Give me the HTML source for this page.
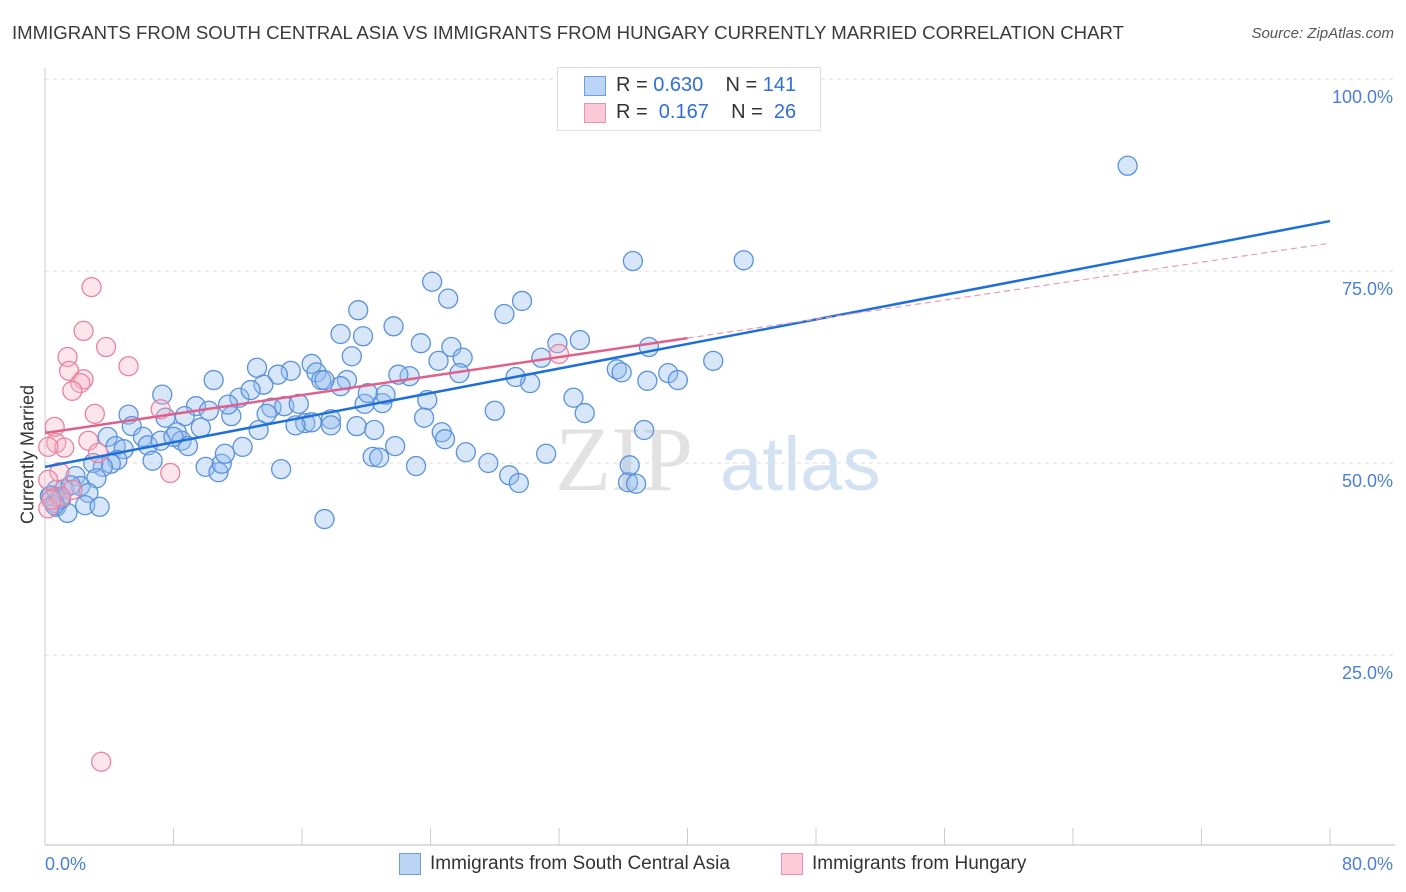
<!DOCTYPE html>
<html><head><meta charset="utf-8"><style>
body{margin:0;background:#fff;font-family:"Liberation Sans",sans-serif;}
#wrap{position:relative;width:1406px;height:892px;overflow:hidden;}
.t{position:absolute;white-space:nowrap;}
</style></head><body>
<div id="wrap">
<div class="t" style="left:12px;top:22px;font-size:18.6px;color:#3a3a3a;">IMMIGRANTS FROM SOUTH CENTRAL ASIA VS IMMIGRANTS FROM HUNGARY CURRENTLY MARRIED CORRELATION CHART</div>
<div class="t" style="right:12px;top:25px;font-size:15px;color:#555;font-style:italic;">Source: ZipAtlas.com</div>
<svg id="svg" width="1406" height="892" style="position:absolute;left:0;top:0"></svg>
</div>
<script>
const xTicks=[0,80];
const yTicks=[25,50,75,100];
const blueX=[67.4,36.6,43.5,24.1,25.1,29.7,28.6,19.5,18.4,19.8,21.7,23.4,25.3,24.5,26.0,19.1,31.9,33.3,37.6,41.6,35.6,35.9,38.8,39.4,37.5,30.2,29.3,30.9,25.8,22.7,22.0,18.8,16.6,16.9,17.2,15.3,14.5,13.2,13.6,12.1,12.8,10.5,7.3,9.4,8.7,10.2,11.6,11.4,14.1,13.8,14.9,15.8,16.2,16.6,15.6,17.8,17.8,19.4,19.9,21.0,21.2,20.1,23.8,23.6,28.0,24.7,24.9,20.5,21.8,20.4,20.8,23.1,26.2,27.6,28.9,29.5,31.2,32.9,33.6,36.3,36.8,37.3,36.4,5.2,5.4,6.1,6.4,6.7,7.5,8.2,8.5,8.9,7.2,8.0,9.7,10.0,10.8,11.0,11.2,12.3,13.3,14.7,17.4,3.9,4.4,4.9,4.5,4.1,3.6,3.0,3.2,1.9,2.2,2.7,1.2,0.9,0.6,0.4,0.7,1.4,2.5,3.4,0.7,1.0,1.6,0.3,0.6,18.4,17.4];
const blueY=[88.7,76.3,76.4,73.6,71.4,71.1,69.4,69.9,66.8,66.5,67.8,65.6,65.1,63.3,63.7,63.9,65.6,66.0,65.1,63.3,62.2,61.8,61.7,60.8,60.7,60.4,61.2,63.7,61.7,61.3,61.5,60.8,62.9,61.8,60.8,62.0,61.5,62.4,60.2,58.5,59.5,60.8,58.9,57.4,56.1,56.8,56.1,57.6,57.2,56.4,57.4,57.7,55.2,55.3,54.9,55.7,54.9,54.8,57.7,57.8,58.9,59.1,58.2,55.9,56.8,54.0,53.1,54.3,52.2,50.8,50.7,49.6,51.4,50.0,48.4,47.4,51.2,58.5,56.5,47.5,47.3,54.3,49.7,56.3,54.8,53.4,52.3,50.3,55.9,54.0,52.9,52.2,52.9,53.4,54.6,49.5,48.8,49.9,51.2,52.1,54.3,49.2,42.7,53.4,52.2,51.8,50.4,49.9,49.5,50.0,48.0,48.3,47.0,46.1,46.6,45.4,44.8,45.8,44.3,43.5,44.5,44.3,46.5,45.3,47.1,45.7,44.5,60.0,60.8];
const pinkX=[2.9,2.4,3.8,1.4,5.2,1.5,2.4,2.2,1.7,3.1,7.2,0.6,0.7,1.2,0.2,2.7,3.3,7.8,0.9,0.2,1.7,1.0,0.2,32.0,3.5,0.4];
const pinkY=[72.9,67.2,65.1,63.8,62.6,62.0,60.9,60.4,59.4,56.4,57.0,54.7,52.6,52.0,52.1,52.9,51.3,48.7,48.8,47.8,46.5,45.6,44.1,64.2,11.1,45.2];
const blueTrend=[49.5,0.40];
const pinkTrend=[53.9,0.309];
const pinkSolidEnd=40;

const X0=45,X1=1330,Y0=847,Y1=79;
const sx=v=>X0+(v-0)/80*(X1-X0);
const sy=v=>Y0-(v/100)*(Y0-Y1);
const svg=document.getElementById('svg');
const NS='http://www.w3.org/2000/svg';
function mk(tag,attrs){const e=document.createElementNS(NS,tag);for(const k in attrs)e.setAttribute(k,attrs[k]);svg.appendChild(e);return e;}

yTicks.forEach(v=>{
 const g=mk('line',{x1:X0,x2:1395,y1:sy(v),y2:sy(v),stroke:'#dcdcdc','stroke-dasharray':'4,4'});
 
 
 const t=mk('text',{x:1393,y:sy(v)+24,'text-anchor':'end','font-size':18,fill:'#4a7fd4','font-family':'Liberation Sans,sans-serif'});
 t.textContent=v.toFixed(1)+'%';
 
 
});
let ax=mk('line',{x1:X0,x2:X0,y1:68,y2:845,stroke:'#ccc'});


ax=mk('line',{x1:X0,x2:1395,y1:845,y2:845,stroke:'#bbb'});


for(let i=0;i<=10;i++){const tk=mk('line',{x1:sx(i*8),x2:sx(i*8),y1:828,y2:845,stroke:'#ccc'});
 
 }
xTicks.forEach((v,i)=>{const t=mk('text',{x:i==0?45:1393,y:870,'text-anchor':i==0?'start':'end','font-size':18,fill:'#4a7fd4','font-family':'Liberation Sans,sans-serif'});
 t.textContent=v.toFixed(1)+'%';
 
 });
let wm=mk('text',{x:555,y:490,'font-size':92,fill:'#e2e2e2','font-family':'Liberation Serif,serif'});wm.textContent='ZIP';


wm=mk('text',{x:720,y:490,'font-size':76,fill:'#d3e2f3','font-family':'Liberation Sans,sans-serif'});wm.textContent='atlas';


blueX.forEach((x,i)=>{const c=mk('circle',{cx:sx(x),cy:sy(blueY[i]),r:9.5,fill:'rgba(150,190,240,0.38)',stroke:'#5a92dc','stroke-width':1.3});
 
 });
pinkX.forEach((x,i)=>{const c=mk('circle',{cx:sx(x),cy:sy(pinkY[i]),r:9.5,fill:'rgba(248,180,200,0.35)',stroke:'#e8829f','stroke-width':1.3});
 
 });
let l=mk('line',{x1:sx(0),y1:sy(blueTrend[0]),x2:sx(80),y2:sy(blueTrend[0]+80*blueTrend[1]),stroke:'#1f6fd8','stroke-width':2.5});


l=mk('line',{x1:sx(0),y1:sy(pinkTrend[0]),x2:sx(pinkSolidEnd),y2:sy(pinkTrend[0]+pinkSolidEnd*pinkTrend[1]),stroke:'#e0608a','stroke-width':2.5});


l=mk('line',{x1:sx(pinkSolidEnd),y1:sy(pinkTrend[0]+pinkSolidEnd*pinkTrend[1]),x2:sx(80),y2:sy(pinkTrend[0]+80*pinkTrend[1]),stroke:'#e89ab2','stroke-width':1.2,'stroke-dasharray':'6,4'});


</script>
<div class="t" style="left:-42px;top:444px;transform:rotate(-90deg);font-size:18px;color:#333;width:140px;text-align:center;">Currently Married</div>
<div style="position:absolute;left:557px;top:67px;width:262px;height:62px;border:1px solid #ddd;background:#fff;font-size:20px;color:#333;">
 <div style="position:absolute;left:26px;top:8px;width:20px;height:18px;background:#bcd5f5;border:1px solid #6b9de0"></div>
 <div class="t" style="left:58px;top:6px">R = <span style="color:#2f6fd6">0.630</span>&nbsp;&nbsp;&nbsp;&nbsp;N = <span style="color:#2f6fd6">141</span></div>
 <div style="position:absolute;left:26px;top:35px;width:20px;height:18px;background:#fbc9d7;border:1px solid #ea92ac"></div>
 <div class="t" style="left:58px;top:33px">R = &nbsp;<span style="color:#2f6fd6">0.167</span>&nbsp;&nbsp;&nbsp;&nbsp;N = &nbsp;<span style="color:#2f6fd6">26</span></div>
</div>
<div style="position:absolute;left:399px;top:853px;height:24px;">
 <div style="position:absolute;left:0;top:0;width:20px;height:20px;background:#bcd5f5;border:1px solid #6b9de0"></div>
 <div class="t" style="left:31px;top:0;font-size:19px;color:#333">Immigrants from South Central Asia</div>
</div>
<div style="position:absolute;left:781px;top:853px;height:24px;">
 <div style="position:absolute;left:0;top:0;width:20px;height:20px;background:#fbc9d7;border:1px solid #ea92ac"></div>
 <div class="t" style="left:31px;top:0;font-size:19px;color:#333">Immigrants from Hungary</div>
</div>
</body></html>
